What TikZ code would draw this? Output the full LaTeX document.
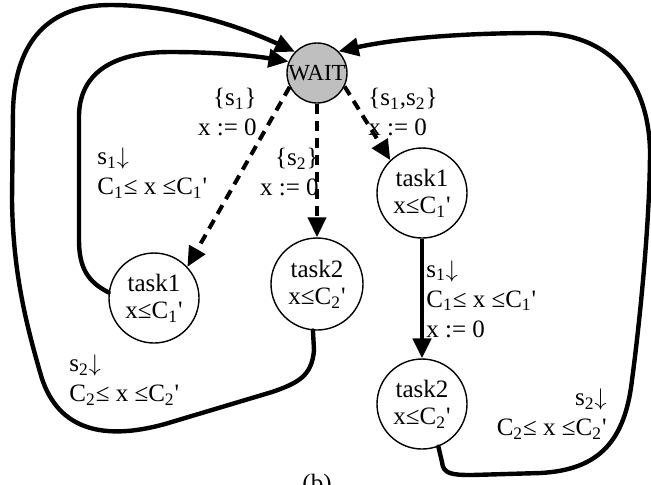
\documentclass[tikz,border=0pt]{standalone}
\usepackage{fontspec}
\setmainfont{Liberation Serif}
\usetikzlibrary{arrows.meta}
\tikzset{
  state/.style={circle,draw,line width=0.7pt,minimum size=45pt,inner sep=0pt,align=center,
    font=\fontsize{12.5}{13.8}\selectfont},
  waitstate/.style={circle,draw,line width=0.7pt,fill=black!25,minimum size=30pt,inner sep=0pt,
    font=\fontsize{11.5}{12}\selectfont},
  lbl/.style={inner sep=0pt,font=\fontsize{12.5}{15}\selectfont},
  tip/.style={-{Triangle[length=10pt,width=9pt]}},
  dashedge/.style={tip,line width=2pt,dash pattern=on 5pt off 3.5pt},
  solidedge/.style={tip,line width=2.3pt},
  loopedge/.style={tip,line width=2.2pt,line cap=round},
}
\newcommand{\pr}{\textquotesingle}
\newcommand{\dn}{\ensuremath{\downarrow}}
\begin{document}
\begin{tikzpicture}[x=0.5pt,y=-0.5pt]
\useasboundingbox (0,0) rectangle (651,484);
% states
\node[waitstate] (W) at (317,73) {WAIT};
\node[state] (L1) at (154,298) {task1\\x≤C\textsubscript{1}\pr};
\node[state,minimum size=46pt] (M) at (317,284) {task2\\x≤C\textsubscript{2}\pr};
\node[state] (R1) at (422,193) {task1\\x≤C\textsubscript{1}\pr};
\node[state] (R2) at (422,404) {task2\\x≤C\textsubscript{2}\pr};
% labels
\node[lbl,align=right,anchor=east] (la) at (257,112) {\{s\textsubscript{1}\}\\x := 0};
\node[lbl,align=left,anchor=west] (lb) at (368,112) {\{s\textsubscript{1},s\textsubscript{2}\}\\x := 0};
\node[lbl,align=right,anchor=east] (lc) at (319,172) {\{s\textsubscript{2}\}\\x := 0};
\node[lbl,align=left,anchor=west] (ld) at (97,173) {s\textsubscript{1}\dn\\C\textsubscript{1}≤ x ≤C\textsubscript{1}\pr};
\node[lbl,align=left,anchor=west] (le) at (426,299) {s\textsubscript{1}\dn\\C\textsubscript{1}≤ x ≤C\textsubscript{1}\pr\\x := 0};
\node[lbl,align=left,anchor=west] (lf) at (69,380) {s\textsubscript{2}\dn\\C\textsubscript{2}≤ x ≤C\textsubscript{2}\pr};
\node[lbl,align=right,anchor=east] (lg) at (607,414) {s\textsubscript{2}\dn\\C\textsubscript{2}≤ x ≤C\textsubscript{2}\pr};
\node[lbl,anchor=north] (cap) at (317,474) {(b)};
% edges
\draw[dashedge] (W.207) -- (L1.43);
\draw[dashedge] (W.south) -- (M.north);
\draw[dashedge] (W.-26) -- (R1.134);
\draw[solidedge] (R1.south) -- (R2.north);
% inner left loop
\draw[loopedge] (L1.173) .. controls (88,282) and (79,268) .. (79,240)
  -- (79,115) .. controls (80,75) and (110,52) .. (170,52)
  .. controls (220,52) and (255,56) .. (W.158);
% outer left loop
\draw[loopedge] (M.265) -- (314,350) .. controls (312,376) and (298,383) .. (272,392)
  -- (165,424) .. controls (100,442) and (55,428) .. (40,372)
  .. controls (25,320) and (13,270) .. (12,200)
  -- (13,110) .. controls (15,40) and (50,5) .. (110,5)
  .. controls (170,5) and (230,22) .. (W.136);
% right loop
\draw[loopedge] (R2.291) -- (442,462) .. controls (443,474) and (452,475) .. (472,475)
  -- (540,473) .. controls (600,470) and (625,440) .. (632,380)
  .. controls (640,320) and (650,220) .. (650,150)
  .. controls (648,80) and (610,33) .. (537,33)
  .. controls (450,33) and (390,40) .. (W.45);
\end{tikzpicture}
\end{document}
